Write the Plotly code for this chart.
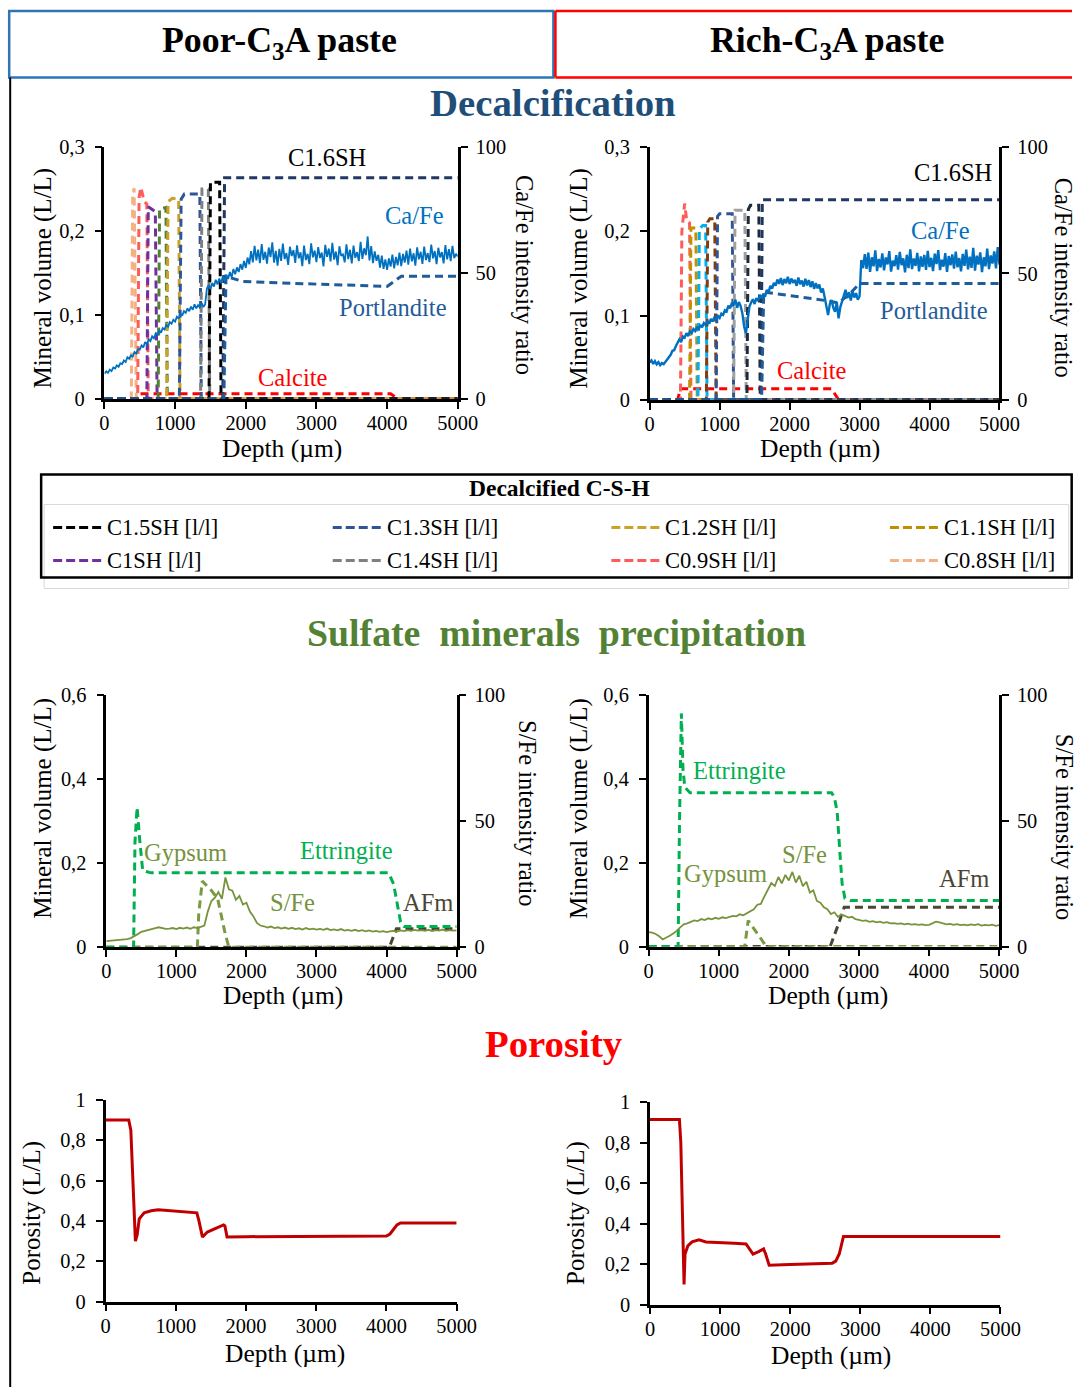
import plotly.graph_objects as go

W, H = 1092, 1398
FONT = "Liberation Serif, Times New Roman, serif"

# ---------------- data ----------------
depth_ticks = [0, 1000, 2000, 3000, 4000, 5000]
vol03_ticks = [0, 0.1, 0.2, 0.3]
vol03_text = ["0", "0,1", "0,2", "0,3"]
vol06_ticks = [0, 0.2, 0.4, 0.6]
vol06_text = ["0", "0,2", "0,4", "0,6"]
ratio_ticks = [0, 50, 100]
poro_ticks = [0, 0.2, 0.4, 0.6, 0.8, 1]
poro_text = ["0", "0,2", "0,4", "0,6", "0,8", "1"]

# sampling depths of the micro-XRF intensity profiles (um)
cafe_depth = list(range(0, 5001, 25))
sfe_depth = list(range(0, 5001, 50))

# Ca/Fe intensity ratio, poor-C3A paste
cafe_poor = [
    10.0, 10.9, 10.3, 11.6, 11.0, 12.4, 12.0, 13.3, 12.7, 14.1,
    13.8, 15.2, 14.6, 16.5, 15.9, 17.3, 16.8, 18.6, 18.0, 19.7,
    19.5, 21.2, 20.4, 22.5, 21.7, 23.6, 22.9, 24.8, 24.0, 25.9,
    25.1, 27.2, 26.3, 28.1, 27.5, 29.4, 28.6, 30.5, 29.8, 31.4,
    30.7, 32.6, 31.8, 33.9, 33.0, 34.8, 34.1, 35.9, 34.8, 36.6,
    35.4, 37.5, 35.9, 37.2, 36.3, 38.1, 36.4, 37.6, 43.8, 45.2,
    43.5, 46.0, 44.6, 47.3, 45.4, 47.8, 45.9, 48.6, 46.7, 49.3,
    47.6, 50.4, 48.3, 51.6, 49.5, 52.2, 50.4, 53.5, 51.3, 54.8,
    52.0, 56.1, 53.4, 58.7, 54.2, 60.8, 55.0, 59.3, 53.9, 61.5,
    55.2, 58.4, 53.7, 60.1, 56.3, 62.2, 54.1, 58.8, 52.9, 59.6,
    54.8, 61.7, 55.5, 57.9, 53.2, 60.4, 56.7, 59.1, 54.0, 61.0,
    55.8, 58.2, 52.7, 60.9, 55.1, 57.6, 53.5, 61.8, 56.2, 58.9,
    54.3, 60.3, 55.9, 58.1, 52.6, 61.2, 56.4, 59.7, 54.6, 62.0,
    55.3, 58.5, 53.1, 60.6, 56.8, 57.4, 54.2, 61.4, 55.5, 59.2,
    53.8, 60.9, 56.0, 58.3, 54.7, 62.4, 55.6, 59.8, 57.1, 64.5,
    55.0, 60.7, 53.9, 58.6, 54.8, 57.2, 52.1, 56.9, 51.6, 55.4,
    51.2, 55.8, 52.5, 57.3, 51.8, 56.4, 53.0, 58.1, 52.7, 57.6,
    54.1, 58.9, 53.3, 59.7, 54.6, 57.8, 52.9, 60.2, 55.4, 58.4,
    53.6, 60.5, 55.1, 57.9, 54.3, 61.3, 55.8, 58.7, 53.5, 60.0,
    56.2, 58.3, 53.8, 61.1, 55.4, 59.5, 54.7, 60.8, 55.9, 57.6,
    56.5,
]
# Ca/Fe intensity ratio, rich-C3A paste
cafe_rich = [
    14.8, 15.6, 14.2, 15.3, 14.0, 14.9, 13.7, 14.5, 14.1, 15.0,
    15.9, 17.2, 17.8, 19.4, 19.6, 21.3, 22.6, 23.9, 22.8, 25.1,
    24.6, 26.4, 25.2, 27.1, 26.3, 28.0, 27.2, 28.9, 27.8, 29.6,
    28.7, 30.4, 29.6, 31.2, 30.1, 32.0, 30.9, 32.8, 31.6, 33.2,
    32.4, 34.1, 33.6, 35.4, 35.0, 37.3, 36.2, 38.4, 37.5, 39.6,
    36.4, 38.7, 37.1, 34.2, 29.0, 26.3, 31.4, 36.8, 38.5, 39.8,
    37.9, 40.2, 39.1, 41.3, 40.2, 42.0, 40.8, 43.5, 42.6, 45.1,
    44.0, 46.3, 45.2, 47.6, 45.9, 48.2, 45.4, 47.8, 46.1, 48.7,
    45.8, 48.0, 46.3, 47.5, 45.1, 48.4, 45.7, 47.2, 44.8, 47.9,
    45.3, 47.4, 44.6, 46.9, 43.9, 46.2, 44.1, 45.6, 42.5, 44.0,
    40.8, 37.2, 33.5, 37.9, 39.5, 36.4, 34.8, 38.6, 32.2, 36.7,
    38.9, 41.8, 43.5, 40.2, 42.6, 39.3, 43.1, 40.5, 42.2, 39.6,
    41.0, 55.3, 52.1, 57.6, 51.8, 58.2, 50.6, 56.4, 52.8, 59.1,
    50.9, 55.7, 52.4, 57.9, 51.2, 56.3, 53.6, 58.8, 50.7, 55.1,
    52.9, 57.2, 51.5, 58.5, 53.3, 56.0, 50.4, 57.4, 52.1, 59.5,
    51.7, 55.9, 53.0, 58.1, 50.8, 56.7, 52.6, 57.3, 51.4, 58.9,
    52.5, 56.2, 50.9, 57.8, 53.7, 59.2, 51.3, 55.4, 52.7, 58.0,
    50.6, 56.9, 53.2, 57.5, 51.9, 58.6, 52.4, 56.1, 50.8, 57.7,
    53.0, 59.4, 51.6, 56.6, 52.2, 60.1, 51.1, 57.0, 53.5, 58.3,
    50.5, 56.4, 52.8, 59.8, 51.7, 57.1, 53.9, 58.7, 52.0, 60.4,
    53.5,
]
# S/Fe intensity ratio
sfe_poor = [
    2.4, 2.5, 2.5, 2.7, 2.8, 3.0, 3.2, 3.6, 4.3, 5.2,
    6.1, 6.5, 7.1, 7.3, 7.6, 7.9, 7.5, 7.3, 7.4, 7.6,
    7.2, 7.7, 7.4, 7.8, 7.3, 7.9, 7.6, 8.1, 8.6, 14.2,
    18.3, 19.6, 21.8, 19.2, 27.6, 22.9, 22.4, 18.8, 20.3, 16.9,
    17.6, 14.1, 12.2, 9.6, 8.6, 8.3, 7.8, 8.2, 7.6, 7.9,
    7.4, 7.8, 7.3, 7.7, 7.2, 7.5, 7.0, 7.6, 7.1, 7.4,
    7.0, 7.3, 6.9, 7.4, 6.8, 7.1, 6.7, 7.2, 6.6, 6.9,
    6.5, 6.9, 6.4, 6.8, 6.3, 6.7, 6.2, 6.5, 6.1, 6.4,
    6.0, 6.3, 6.5, 6.2, 6.7, 6.4, 6.8, 6.5, 6.9, 6.6,
    6.8, 6.5, 6.9, 6.4, 6.8, 6.6, 7.0, 6.5, 6.8, 6.6,
    6.7,
]
sfe_rich = [
    5.7, 5.5, 5.0, 4.1, 2.8, 3.4, 4.3, 5.2, 6.2, 7.6,
    8.8, 9.2, 9.8, 10.4, 10.1, 10.9, 10.5, 11.2, 10.8, 11.4,
    11.0, 11.6, 11.3, 11.9, 12.2, 12.0, 12.8, 12.4, 13.3, 14.2,
    14.8, 16.6, 16.9, 19.8, 22.5, 25.2, 24.0, 27.6, 25.1, 28.4,
    26.2, 29.6, 25.4, 28.1, 23.9, 25.7, 21.4, 22.3, 18.1, 17.4,
    15.6, 14.8, 12.9, 13.6, 11.8, 12.7, 12.2, 11.5, 11.8, 10.9,
    10.6, 10.2, 10.4, 9.8, 10.1, 9.6, 9.9, 9.4, 9.7, 9.2,
    9.3, 9.0, 9.2, 8.8, 9.1, 8.7, 8.9, 8.6, 8.8, 8.5,
    8.6, 9.4, 9.9, 9.6, 9.2, 8.8, 9.0, 8.6, 8.9, 8.5,
    8.7, 8.4, 8.8, 8.5, 8.9, 8.3, 8.6, 8.4, 8.7, 8.2,
    8.5,
]

# decalcification: modelled mineral volumes (L/L), poor-C3A paste
csh_poor = [
    # (color, depths, volumes)
    ("#F4B183", [0, 380, 400, 420, 450, 5000], [0, 0, 0.245, 0.251, 0, 0]),
    ("#FF5B5B", [0, 470, 490, 515, 560, 600, 620, 5000], [0, 0, 0.24, 0.252, 0.236, 0.232, 0, 0]),
    ("#7030A0", [0, 600, 620, 720, 745, 5000], [0, 0, 0.229, 0.223, 0, 0]),
    ("#548235", [0, 760, 780, 870, 890, 5000], [0, 0, 0.226, 0.228, 0, 0]),
    ("#C9A227", [0, 880, 900, 960, 1050, 1070, 5000], [0, 0, 0.235, 0.239, 0.238, 0, 0]),
    ("#2F5597", [0, 1060, 1085, 1130, 1350, 1370, 5000], [0, 0, 0.238, 0.244, 0.244, 0, 0]),
    ("#808080", [0, 1360, 1380, 1470, 1490, 5000], [0, 0, 0.25, 0.25, 0, 0]),
    ("#000000", [0, 1480, 1500, 1630, 1650, 5000], [0, 0, 0.258, 0.258, 0, 0]),
    ("#203864", [0, 1675, 1700, 5000], [0, 0, 0.2635, 0.2635]),
]
portlandite_poor_x = [0, 1690, 1720, 1950, 2500, 3900, 4000, 4100, 4200, 5000]
portlandite_poor_y = [0, 0, 0.146, 0.14, 0.138, 0.134, 0.134, 0.14, 0.146, 0.146]
calcite_poor_x = [0, 440, 480, 4050, 4150, 5000]
calcite_poor_y = [0, 0, 0.006, 0.006, 0, 0]

# decalcification: rich-C3A paste
csh_rich = [
    ("#FF5B5B", [0, 440, 460, 500, 530, 570, 590, 5000], [0, 0, 0.2, 0.233, 0.212, 0.21, 0, 0]),
    ("#BF9000", [0, 570, 590, 660, 680, 5000], [0, 0, 0.204, 0.204, 0, 0]),
    ("#00B0F0", [0, 690, 710, 760, 800, 820, 5000], [0, 0, 0.203, 0.207, 0.207, 0, 0]),
    ("#843C0C", [0, 810, 830, 860, 930, 950, 5000], [0, 0, 0.211, 0.215, 0.215, 0, 0]),
    ("#2F5597", [0, 950, 970, 1000, 1180, 1200, 5000], [0, 0, 0.218, 0.221, 0.221, 0, 0]),
    ("#A0A0A0", [0, 1200, 1220, 1360, 1380, 5000], [0, 0, 0.225, 0.225, 0, 0]),
    ("#1E2B3C", [0, 1390, 1410, 1440, 1560, 1580, 5000], [0, 0, 0.226, 0.231, 0.231, 0, 0]),
    ("#203864", [0, 1590, 1610, 5000], [0, 0, 0.2375, 0.2375]),
]
portlandite_rich_x = [0, 1600, 1630, 1800, 2200, 2500, 2700, 2850, 3000, 5000]
portlandite_rich_y = [0, 0, 0.128, 0.126, 0.122, 0.118, 0.115, 0.125, 0.138, 0.138]
calcite_rich_x = [0, 400, 440, 2600, 2700, 5000]
calcite_rich_y = [0, 0, 0.013, 0.013, 0, 0]

# sulfate minerals (L/L)
ettringite_poor_x = [0, 390, 410, 440, 480, 520, 640, 4030, 4100, 4150, 4200, 4250, 5000]
ettringite_poor_y = [0, 0, 0.25, 0.332, 0.25, 0.182, 0.1766, 0.1766, 0.15, 0.1, 0.06, 0.049, 0.049]
gypsum_poor_x = [0, 1300, 1320, 1370, 1500, 1590, 1700, 1750, 5000]
gypsum_poor_y = [0, 0, 0.08, 0.157, 0.135, 0.115, 0.03, 0, 0]
afm_poor_x = [0, 4040, 4140, 5000]
afm_poor_y = [0, 0, 0.044, 0.044]

ettringite_rich_x = [0, 420, 440, 466, 490, 516, 590, 2610, 2650, 2690, 2730, 2760, 2800, 2880, 5000]
ettringite_rich_y = [0, 0, 0.3, 0.555, 0.42, 0.379, 0.366, 0.366, 0.355, 0.32, 0.22, 0.15, 0.115, 0.1095, 0.1095]
gypsum_rich_x = [0, 1370, 1420, 1560, 1680, 5000]
gypsum_rich_y = [0, 0, 0.062, 0.03, 0, 0]
afm_rich_x = [0, 2590, 2700, 2790, 5000]
afm_rich_y = [0, 0, 0.05, 0.0936, 0.0936]

# porosity (L/L)
poro_poor_x = [0, 330, 360, 400, 425, 450, 480, 550, 650, 750, 900, 1100, 1300, 1330, 1380,
               1450, 1550, 1680, 1700, 1730, 2000, 4000, 4050, 4150, 4200, 5000]
poro_poor_y = [0.9, 0.9, 0.85, 0.5, 0.3, 0.33, 0.41, 0.44, 0.45, 0.455, 0.45, 0.445, 0.44, 0.4, 0.32,
               0.345, 0.36, 0.38, 0.375, 0.32, 0.322, 0.325, 0.335, 0.38, 0.39, 0.39]
poro_rich_x = [0, 420, 440, 470, 486, 500, 540, 600, 700, 800, 1000, 1200, 1370, 1400, 1470,
               1550, 1620, 1650, 1700, 2000, 2600, 2650, 2700, 2760, 5000]
poro_rich_y = [0.915, 0.915, 0.8, 0.4, 0.1, 0.25, 0.29, 0.31, 0.32, 0.31, 0.305, 0.303, 0.3, 0.285, 0.25,
               0.262, 0.275, 0.25, 0.195, 0.198, 0.205, 0.215, 0.25, 0.337, 0.337]

legend_names = ["C1.5SH [l/l]", "C1.3SH [l/l]", "C1.2SH [l/l]", "C1.1SH [l/l]",
                "C1SH [l/l]", "C1.4SH [l/l]", "C0.9SH [l/l]", "C0.8SH [l/l]"]
legend_colors = ["#000000", "#2F5597", "#C9A227", "#BF8F00",
                 "#7030A0", "#808080", "#FF5B5B", "#F4B183"]


# ---------------- helpers ----------------
# positions below are the reference picture's pixels; the photographed page comes
# out slightly shrunk and shifted, so they are mapped back before use
SX, CX = 0.9785, 3.8
SY, CY = 0.9841, 10.6


def fx(p):
    return min(max((p - CX) / SX / W, 0.0), 1.0)


def fy(p):
    return min(max(1 - (p - CY) / SY / H, 0.0), 1.0)


def fs(n):
    return round(n / SX, 1)


def ref(prefix, n):
    return prefix + ("" if n == 1 else str(n))


DASH = "8px,5px"
axis_common = dict(showline=True, linecolor="black", linewidth=2.5, ticks="outside",
                   ticklen=7, tickwidth=2, tickcolor="black", showgrid=False,
                   zeroline=False, fixedrange=True,
                   tickfont=dict(family=FONT, size=fs(20), color="black"))

layout = dict(width=W, height=H, margin=dict(l=0, r=0, t=0, b=0),
              paper_bgcolor="white", plot_bgcolor="rgba(0,0,0,0)",
              showlegend=False, hovermode=False,
              font=dict(family=FONT, color="black"))


def panel(k, left, right, bottom, top, ymax, yvals, ytext, with_ratio):
    layout["xaxis" + ("" if k == 1 else str(k))] = dict(
        domain=[fx(left), fx(right)], anchor=ref("y", 2 * k - 1), range=[0, 5000],
        tickvals=depth_ticks, ticklabelstandoff=-3, **axis_common)
    layout["yaxis" + ("" if 2 * k - 1 == 1 else str(2 * k - 1))] = dict(
        domain=[fy(bottom), fy(top)], anchor=ref("x", k), range=[0, ymax],
        tickvals=yvals, ticktext=ytext, ticklabelstandoff=6, **axis_common)
    if with_ratio:
        layout["yaxis" + str(2 * k)] = dict(
            overlaying=ref("y", 2 * k - 1), side="right", anchor=ref("x", k),
            range=[0, 100], tickvals=ratio_ticks, ticklabelstandoff=4, **axis_common)


panel(1, 103.4, 457.2, 398.3, 146.7, 0.3, vol03_ticks, vol03_text, True)
panel(2, 649.4, 999.7, 399.3, 146.7, 0.3, vol03_ticks, vol03_text, True)
panel(3, 105.2, 456.1, 946.7, 694.0, 0.6, vol06_ticks, vol06_text, True)
panel(4, 648.4, 999.3, 946.0, 694.0, 0.6, vol06_ticks, vol06_text, True)
panel(5, 104.5, 456.1, 1301.0, 1099.3, 1.0, poro_ticks, poro_text, False)
panel(6, 649.7, 1000.7, 1304.0, 1101.7, 1.0, poro_ticks, poro_text, False)

fig = go.Figure(layout=layout)


def line(k, x, y, color, width=3, dash=DASH, ratio=False):
    fig.add_trace(go.Scatter(
        x=x, y=y, mode="lines", line=dict(color=color, width=width, dash=dash),
        xaxis=ref("x", k), yaxis=ref("y", 2 * k if ratio else 2 * k - 1)))


# decalcification
line(1, calcite_poor_x, calcite_poor_y, "#FF0000")
for color, xs, ys in csh_poor:
    line(1, xs, ys, color)
line(1, portlandite_poor_x, portlandite_poor_y, "#1F5C99")
line(1, cafe_depth, cafe_poor, "#0070C0", width=1.8, dash="solid", ratio=True)

line(2, calcite_rich_x, calcite_rich_y, "#FF0000")
for color, xs, ys in csh_rich:
    line(2, xs, ys, color)
line(2, portlandite_rich_x, portlandite_rich_y, "#1F5C99")
line(2, cafe_depth, cafe_rich, "#0070C0", width=2.4, dash="solid", ratio=True)

# sulfates
line(3, afm_poor_x, afm_poor_y, "#4A4632")
line(3, gypsum_poor_x, gypsum_poor_y, "#7A9A42")
line(3, ettringite_poor_x, ettringite_poor_y, "#00B050")
line(3, sfe_depth, sfe_poor, "#77933C", width=1.8, dash="solid", ratio=True)

line(4, afm_rich_x, afm_rich_y, "#4A4632")
line(4, gypsum_rich_x, gypsum_rich_y, "#7A9A42")
line(4, ettringite_rich_x, ettringite_rich_y, "#00B050")
line(4, sfe_depth, sfe_rich, "#77933C", width=1.8, dash="solid", ratio=True)

# porosity
line(5, poro_poor_x, poro_poor_y, "#C00000", width=3, dash="solid")
line(6, poro_rich_x, poro_rich_y, "#C00000", width=3, dash="solid")


# ---------------- decorations ----------------
def text(t, x, y, color="black", size=24, bold=False, angle=0, xanchor="center"):
    if bold:
        t = "<b>" + t + "</b>"
    fig.add_annotation(text=t, x=fx(x), y=fy(y), xref="paper", yref="paper",
                       showarrow=False, xanchor=xanchor, yanchor="middle",
                       textangle=angle, font=dict(family=FONT, size=fs(size), color=color))


def seg(x0, y0, x1, y1, color, width, dash="solid"):
    fig.add_shape(type="line", xref="paper", yref="paper", x0=fx(x0), x1=fx(x1),
                  y0=fy(y0), y1=fy(y1), line=dict(color=color, width=width, dash=dash))


def rect(x0, y0, x1, y1, color, width):
    fig.add_shape(type="rect", xref="paper", yref="paper", x0=fx(x0), x1=fx(x1),
                  y0=fy(y1), y1=fy(y0), line=dict(color=color, width=width),
                  fillcolor="rgba(0,0,0,0)", layer="above")


# header boxes (the red one runs off the right edge, nothing may overflow the figure)
rect(8, 7, 553, 77, "#2E75B6", 2.5)
seg(555, 7, 555, 77, "#FF0000", 2.5)
seg(555, 7, 1100, 7, "#FF0000", 2.5)
seg(555, 77, 1100, 77, "#FF0000", 2.5)
seg(9, 77, 9, 1400, "black", 2)
text("Poor-C<sub>3</sub>A paste", 279, 42, size=35, bold=True)
text("Rich-C<sub>3</sub>A paste", 827, 42, size=35, bold=True)

# section titles
text("Decalcification", 553, 102, color="#1F4E79", size=38, bold=True)
text("Sulfate  minerals  precipitation", 556, 632, color="#548235", size=37, bold=True)
text("Porosity", 554, 1043, color="#FF0000", size=38, bold=True)

# axis titles
for x, y in [(42, 278), (579, 278), (41, 808), (578, 808)]:
    text("Mineral volume (L/L)", x, y, size=24.5, angle=-90)
for x, y in [(524, 275), (1064, 277)]:
    text("Ca/Fe intensity ratio", x, y, size=24, angle=90)
for x, y in [(527, 813), (1065, 826)]:
    text("S/Fe intensity ratio", x, y, size=24, angle=90)
for x, y in [(30, 1212), (575, 1212)]:
    text("Porosity (L/L)", x, y, size=24.5, angle=-90)
for x, y in [(281, 448), (820, 448), (282, 995), (828, 995), (284, 1353), (831, 1355)]:
    text("Depth (µm)", x, y, size=25)

# curve labels
text("C1.6SH", 326, 157)
text("Ca/Fe", 414, 215, color="#0070C0")
text("Portlandite", 392, 307, color="#1F5C99")
text("Calcite", 292, 377, color="#FF0000")
text("C1.6SH", 953, 172)
text("Ca/Fe", 941, 230, color="#0070C0")
text("Portlandite", 934, 310, color="#1F5C99")
text("Calcite", 812, 370, color="#FF0000")

text("Gypsum", 185, 852, color="#76923C")
text("Ettringite", 346, 850, color="#00B050")
text("S/Fe", 292, 902, color="#76923C")
text("AFm", 427, 902, color="#4A4632")
text("Ettringite", 739, 770, color="#00B050")
text("Gypsum", 725, 873, color="#76923C")
text("S/Fe", 804, 854, color="#76923C")
text("AFm", 964, 878, color="#4A4632")

# C-S-H legend box
rect(43, 504, 1069, 588, "#D9D9D9", 1)
rect(40, 474, 1072, 577, "#000000", 2.5)
text("Decalcified C-S-H", 559, 488, size=23, bold=True)
col_x = [52, 332, 611, 890]
row_y = [527, 560]
for i, (name, color) in enumerate(zip(legend_names, legend_colors)):
    gx = col_x[i % 4]
    gy = row_y[i // 4]
    seg(gx, gy, gx + 50, gy, color, 3, dash="9px,4px")
    text(name, gx + 52, gy, size=22, xanchor="left")

# drop the default page margin so the 1092x1398 figure fills the window exactly
fig.write_html("out.html", config={"displayModeBar": False},
               post_script="document.body.style.margin='0';"
                           "document.documentElement.style.overflow='hidden';")
